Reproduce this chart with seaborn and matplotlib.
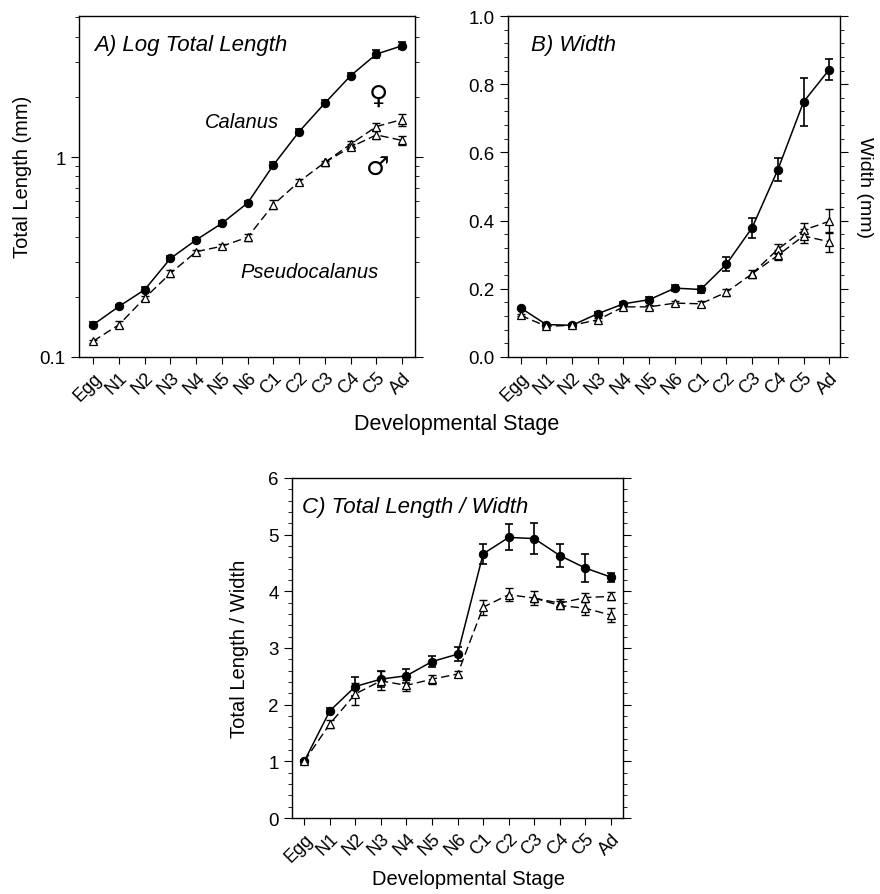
import matplotlib
matplotlib.use("Agg")
import matplotlib.pyplot as plt
from matplotlib.ticker import AutoMinorLocator, FixedLocator, NullFormatter, LogLocator
import seaborn as sns
import pandas as pd
import numpy as np

stages = ["Egg", "N1", "N2", "N3", "N4", "N5", "N6", "C1", "C2", "C3", "C4", "C5", "Ad"]

# A) total length (mm)
cal_len = [0.145, 0.179, 0.217, 0.311, 0.385, 0.466, 0.589, 0.912, 1.34, 1.86, 2.55, 3.27, 3.60]
cal_len_err = [0.004, 0.004, 0.006, 0.008, 0.01, 0.012, 0.015, 0.03, 0.04, 0.07, 0.09, 0.15, 0.14]
pse_len = [0.120, 0.145, 0.197, 0.262, 0.336, 0.358, 0.397, 0.578, 0.753, 0.94]
pse_len_err = [0.002, 0.006, 0.006, 0.01, 0.008, 0.008, 0.015, 0.03, 0.02, 0.01]
pse_len_f = [1.16, 1.42, 1.54]
pse_len_f_err = [0.04, 0.06, 0.11]
pse_len_m = [1.12, 1.29, 1.21]
pse_len_m_err = [0.04, 0.06, 0.06]

# B) width (mm)
cal_wid = [0.144, 0.095, 0.093, 0.127, 0.156, 0.168, 0.202, 0.198, 0.272, 0.379, 0.549, 0.748, 0.843]
cal_wid_err = [0.004, 0.004, 0.004, 0.006, 0.006, 0.008, 0.008, 0.01, 0.02, 0.03, 0.034, 0.07, 0.03]
pse_wid = [0.122, 0.090, 0.093, 0.109, 0.147, 0.147, 0.158, 0.156, 0.190, 0.244]
pse_wid_err = [0.003, 0.004, 0.004, 0.004, 0.005, 0.005, 0.005, 0.008, 0.01, 0.01]
pse_wid_f = [0.316, 0.372, 0.398]
pse_wid_f_err = [0.015, 0.02, 0.035]
pse_wid_m = [0.298, 0.355, 0.338]
pse_wid_m_err = [0.015, 0.02, 0.03]

# C) total length / width
cal_rat = [1.00, 1.89, 2.32, 2.45, 2.51, 2.76, 2.89, 4.66, 4.95, 4.93, 4.63, 4.41, 4.25]
cal_rat_err = [0.02, 0.05, 0.17, 0.14, 0.12, 0.1, 0.12, 0.17, 0.23, 0.27, 0.2, 0.25, 0.08]
pse_rat = [1.00, 1.66, 2.19, 2.42, 2.34, 2.45, 2.54, 3.72, 3.94, 3.88]
pse_rat_err = [0.02, 0.07, 0.2, 0.17, 0.1, 0.08, 0.06, 0.13, 0.12, 0.12]
pse_rat_f = [3.79, 3.89, 3.91]
pse_rat_f_err = [0.07, 0.08, 0.07]
pse_rat_m = [3.75, 3.70, 3.58]
pse_rat_m_err = [0.07, 0.12, 0.12]

sns.set_style("ticks")
plt.rcParams["font.family"] = ["Liberation Sans", "DejaVu Sans"]
plt.rcParams["text.color"] = "black"
plt.rcParams["axes.labelcolor"] = "black"
plt.rcParams["xtick.color"] = "black"
plt.rcParams["ytick.color"] = "black"

fig = plt.figure(figsize=(8.8, 8.95), dpi=100)
axA = fig.add_axes([0.0898, 0.600, 0.3818, 0.381])
axB = fig.add_axes([0.5773, 0.600, 0.3773, 0.381])
axC = fig.add_axes([0.3315, 0.0849, 0.3761, 0.380])


def draw(ax, cal, cal_err, pse, pse_err, f, f_err, m, m_err):
    x = np.arange(len(stages))
    n = len(pse)
    rows = []
    for i, v in enumerate(cal):
        rows.append(("cal", x[i], v))
    for i, v in enumerate(pse):
        rows.append(("pse", x[i], v))
    # female and male branches leave from the last shared stage
    rows.append(("fem", x[n - 1], pse[-1]))
    for i, v in enumerate(f):
        rows.append(("fem", x[n + i], v))
    rows.append(("mal", x[n - 1], pse[-1]))
    for i, v in enumerate(m):
        rows.append(("mal", x[n + i], v))
    df = pd.DataFrame(rows, columns=["series", "stage", "value"])

    d = df[df.series == "cal"]
    sns.lineplot(data=d, x="stage", y="value", ax=ax, color="black", lw=1.1,
                 marker="o", markersize=6, markeredgecolor="black", zorder=3)
    for s in ["pse", "fem", "mal"]:
        d = df[df.series == s]
        sns.lineplot(data=d, x="stage", y="value", ax=ax, color="black", lw=1.0,
                     dashes=(6, 3), marker="^", markersize=6, markerfacecolor="white",
                     markeredgecolor="black", markeredgewidth=0.9, zorder=4)
    ax.errorbar(x, cal, yerr=cal_err, fmt="none", ecolor="black", elinewidth=1.2,
                capsize=3, capthick=1.2, zorder=2)
    ax.errorbar(x[:n], pse, yerr=pse_err, fmt="none", ecolor="black", elinewidth=1.0,
                capsize=3, capthick=1.0, zorder=2)
    ax.errorbar(x[n:], f, yerr=f_err, fmt="none", ecolor="black", elinewidth=1.0,
                capsize=3, capthick=1.0, zorder=2)
    ax.errorbar(x[n:], m, yerr=m_err, fmt="none", ecolor="black", elinewidth=1.0,
                capsize=3, capthick=1.0, zorder=2)

    ax.set_xticks(x)
    ax.set_xticklabels(stages, rotation=45, ha="right", rotation_mode="anchor", fontsize=13)
    ax.set_xlabel("")
    ax.set_ylabel("")
    for sp in ax.spines.values():
        sp.set_visible(True)
        sp.set_linewidth(1.0)
        sp.set_color("black")
    ax.tick_params(axis="y", which="both", right=True, direction="out", labelsize=13.5)
    ax.tick_params(axis="y", which="major", length=6)
    ax.tick_params(axis="y", which="minor", length=3)
    ax.tick_params(axis="x", length=5)


draw(axA, cal_len, cal_len_err, pse_len, pse_len_err, pse_len_f, pse_len_f_err, pse_len_m, pse_len_m_err)
axA.set_yscale("log")
axA.set_ylim(0.1, 5.07)
axA.set_xlim(-0.55, 12.5)
axA.yaxis.set_major_locator(FixedLocator([0.1, 1]))
axA.set_yticklabels(["0.1", "1"])
axA.yaxis.set_minor_locator(LogLocator(base=10, subs=np.arange(2, 10)))
axA.yaxis.set_minor_formatter(NullFormatter())
axA.set_ylabel("Total Length (mm)", fontsize=14.5)
axA.yaxis.set_label_coords(-0.14, 0.53)
axA.text(0.045, 0.915, "A) Log Total Length", transform=axA.transAxes, fontsize=16,
         style="italic", va="center")
axA.text(0.375, 0.69, "Calanus", transform=axA.transAxes, fontsize=14.5, style="italic",
         va="center")
axA.text(0.48, 0.25, "Pseudocalanus", transform=axA.transAxes, fontsize=14.5, style="italic",
         va="center")
axA.text(0.89, 0.765, "\u2640", transform=axA.transAxes, fontsize=19, ha="center",
         va="center", family="DejaVu Sans")
axA.text(0.89, 0.555, "\u2642", transform=axA.transAxes, fontsize=19, ha="center",
         va="center", family="DejaVu Sans")

draw(axB, cal_wid, cal_wid_err, pse_wid, pse_wid_err, pse_wid_f, pse_wid_f_err, pse_wid_m, pse_wid_m_err)
axB.set_ylim(0, 1.0)
axB.set_xlim(-0.49, 12.42)
axB.set_yticks([0, 0.2, 0.4, 0.6, 0.8, 1.0])
axB.set_yticklabels(["0.0", "0.2", "0.4", "0.6", "0.8", "1.0"])
axB.yaxis.set_minor_locator(AutoMinorLocator(5))
axB.text(0.07, 0.915, "B) Width", transform=axB.transAxes, fontsize=16, style="italic",
         va="center")
fig.text(0.982, 0.79, "Width (mm)", rotation=270, fontsize=14, ha="center", va="center")

draw(axC, cal_rat, cal_rat_err, pse_rat, pse_rat_err, pse_rat_f, pse_rat_f_err, pse_rat_m, pse_rat_m_err)
axC.set_ylim(0, 6)
axC.set_xlim(-0.49, 12.46)
axC.set_yticks(range(7))
axC.yaxis.set_minor_locator(AutoMinorLocator(5))
axC.set_ylabel("Total Length / Width", fontsize=14.5)
axC.yaxis.set_label_coords(-0.13, 0.5)
axC.text(0.03, 0.915, "C) Total Length / Width", transform=axC.transAxes, fontsize=16,
         style="italic", va="center")

fig.text(0.519, 0.526, "Developmental Stage", fontsize=15.5, ha="center", va="center")
fig.text(0.532, 0.017, "Developmental Stage", fontsize=14.5, ha="center", va="center")

fig.savefig("out.png", dpi=100)
